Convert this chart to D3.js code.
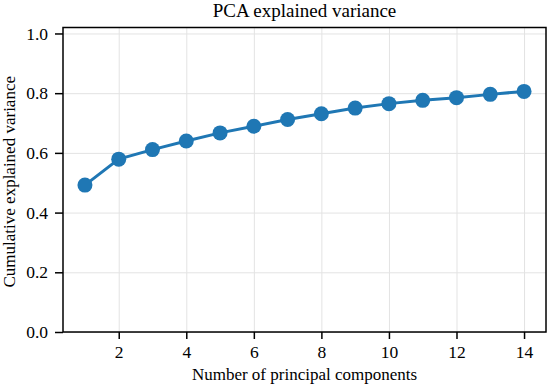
<!DOCTYPE html>
<html>
<head>
<meta charset="utf-8">
<script src="https://cdn.jsdelivr.net/npm/d3@7"></script>
<style>
  body { margin: 0; background: #fff; }
  text { font-family: "Liberation Serif", "DejaVu Serif", serif; fill: #000; }
</style>
</head>
<body>
<svg id="chart" width="550" height="390"></svg>
<script>
const components = [1, 2, 3, 4, 5, 6, 7, 8, 9, 10, 11, 12, 13, 14];
const cumVariance = [0.492, 0.579, 0.611, 0.640, 0.667, 0.689, 0.712, 0.731,
                     0.750, 0.765, 0.776, 0.785, 0.796, 0.806];
const xTicks = [2, 4, 6, 8, 10, 12, 14];
const yTicks = [0.0, 0.2, 0.4, 0.6, 0.8, 1.0];

const margin = {top: 27.5, right: 4, bottom: 58, left: 63};
const width = 550 - margin.left - margin.right;
const height = 390 - margin.top - margin.bottom;

const svg = d3.select("#chart");
const g = svg.append("g")
    .attr("transform", `translate(${margin.left},${margin.top})`);

const x = d3.scaleLinear().domain([0.35, 14.65]).range([0, width]);
const y = d3.scaleLinear().domain([0, 1.02]).range([height, 0]);

// grid
g.append("g")
    .call(d3.axisBottom(x).tickValues(xTicks).tickSize(height).tickFormat(""))
    .call(s => s.select(".domain").remove())
    .selectAll("line")
    .attr("stroke", "#e3e3e3")
    .attr("stroke-width", 1);

g.append("g")
    .call(d3.axisLeft(y).tickValues(yTicks).tickSize(-width).tickFormat(""))
    .call(s => s.select(".domain").remove())
    .selectAll("line")
    .attr("stroke", "#e3e3e3")
    .attr("stroke-width", 1);

// line + markers
const line = d3.line()
    .x((d, i) => x(components[i]))
    .y(d => y(d));

g.append("path")
    .datum(cumVariance)
    .attr("fill", "none")
    .attr("stroke", "#1f77b4")
    .attr("stroke-width", 3)
    .attr("d", line);

g.selectAll("circle")
    .data(cumVariance)
    .join("circle")
    .attr("cx", (d, i) => x(components[i]))
    .attr("cy", d => y(d))
    .attr("r", 7.5)
    .attr("fill", "#1f77b4");

// axes
const xAxis = g.append("g")
    .attr("transform", `translate(0,${height})`)
    .call(d3.axisBottom(x).tickValues(xTicks).tickSize(7).tickPadding(7).tickFormat(d3.format("d")));

const yAxis = g.append("g")
    .call(d3.axisLeft(y).tickValues(yTicks).tickSize(8).tickPadding(7).tickFormat(d3.format(".1f")));

[xAxis, yAxis].forEach(a => {
    a.select(".domain").remove();
    a.selectAll("line").attr("stroke", "#000").attr("stroke-width", 1.5);
    a.selectAll("text").style("font-size", "17.5px").attr("fill", "#000");
});

// frame
g.append("rect")
    .attr("width", width)
    .attr("height", height)
    .attr("fill", "none")
    .attr("stroke", "#000")
    .attr("stroke-width", 1.5);

// labels
svg.append("text")
    .attr("x", margin.left + width / 2)
    .attr("y", 17)
    .attr("text-anchor", "middle")
    .style("font-size", "19px")
    .text("PCA explained variance");

svg.append("text")
    .attr("x", margin.left + width / 2)
    .attr("y", 380)
    .attr("text-anchor", "middle")
    .style("font-size", "17px")
    .text("Number of principal components");

svg.append("text")
    .attr("transform", `translate(15,${margin.top + height / 2 + 2}) rotate(-90)`)
    .attr("text-anchor", "middle")
    .style("font-size", "17px")
    .text("Cumulative explained variance");
</script>
</body>
</html>
